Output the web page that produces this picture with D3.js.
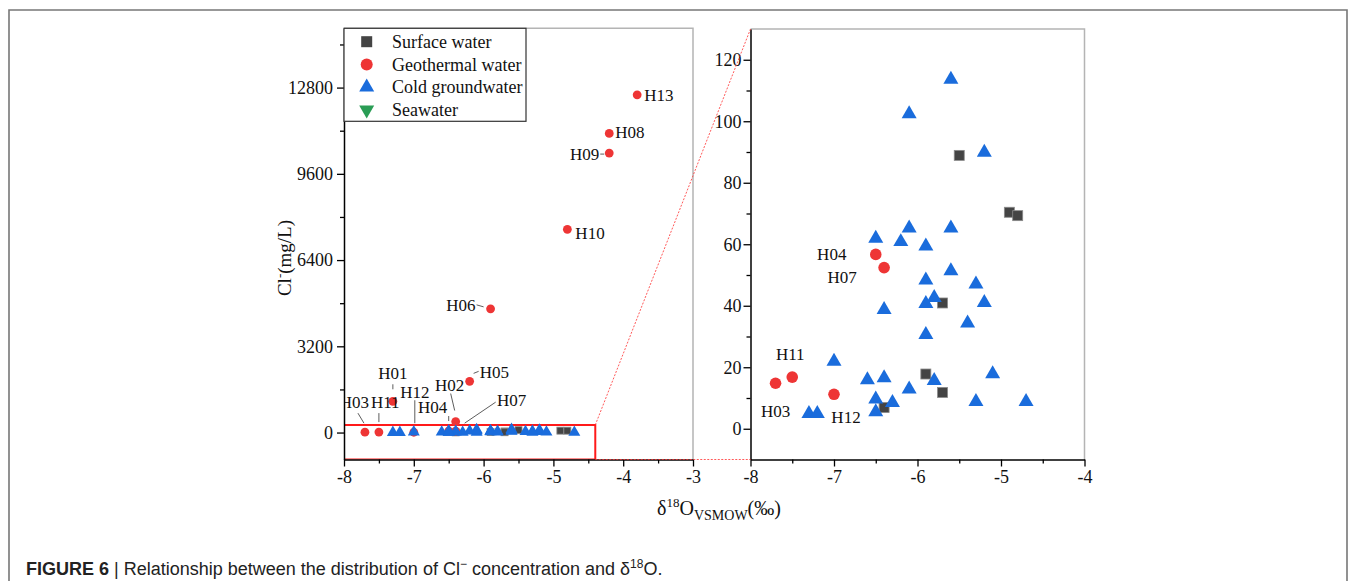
<!DOCTYPE html>
<html>
<head>
<meta charset="utf-8">
<script src="https://cdn.jsdelivr.net/npm/d3@7"></script>
<style>
  body { margin: 0; background: #fff; }
  svg { display: block; font-family: "Liberation Serif", "Times New Roman", serif; }
</style>
</head>
<body>
<svg id="chart" width="1355" height="581"></svg>
<script>
// Data: d18O (permil) and Cl- (mg/L).
var geoNames = ["H01", "H02", "H03", "H04", "H05", "H06", "H07", "H08", "H09", "H10", "H11", "H12", "H13"];
var geoD18O  = [-7.3, -6.4, -7.7, -6.5, -6.2, -5.9, -6.4, -4.2, -4.2, -4.8, -7.5, -7.0, -3.8];
var geoCl    = [1160, 409, 14.8, 56.7, 1900, 4590, 52.4, 11100, 10370, 7540, 16.8, 11.2, 12530];

var surfD18O = [-5.5, -4.9, -4.8, -5.7, -5.9, -5.7, -6.4];
var surfCl   = [88.9, 70.4, 69.3, 40.9, 17.8, 11.8, 6.9];

var coldD18O = [-5.6, -6.1, -5.2, -6.5, -6.1, -6.2, -5.9, -5.6, -5.6, -5.9, -5.3, -5.8, -5.9, -5.2, -6.4,
                -5.4, -5.9, -7.0, -6.6, -6.4, -5.8, -5.1, -6.1, -6.5, -6.3, -6.5, -5.3, -4.7, -7.3, -7.2];
var coldCl   = [113.6, 102.4, 89.9, 61.9, 65.2, 60.8, 59.4, 65.2, 51.3, 48.3, 47.0, 42.6, 40.7, 41.0, 38.7,
                34.3, 30.6, 21.9, 15.9, 16.5, 15.6, 17.8, 12.9, 9.6, 8.5, 5.5, 8.8, 8.8, 4.9, 4.9];

// seawater is only in the legend (off scale)
var seaD18O = [];
var seaCl   = [];

var seriesNames = ["Surface water", "Geothermal water", "Cold groundwater", "Seawater"];

var leftXTicks  = [-8, -7, -6, -5, -4, -3];
var leftYTicks  = [0, 3200, 6400, 9600, 12800];
var rightXTicks = [-8, -7, -6, -5, -4];
var rightYTicks = [0, 20, 40, 60, 80, 100, 120];
var zoomBox = {x: [-8, -4.4], y: [-1000, 280]};

// Layout and style constants.
var my = {
  serif: '"Liberation Serif", "Times New Roman", serif',
  sans: '"Liberation Sans", Arial, sans-serif',
  colors: {surface: "#444444", geo: "#ee3535", cold: "#1a6cdc", sea: "#2a9d55"},
  frame: "#b4b4b4",
  left:  {x0: 344, x1: 693, y0: 459.5, y1: 28.3, xDomain: [-8, -3], yDomain: [-1000, 15000],
          sq: 7, r: 4.4, tri: 12, id: "L"},
  right: {x0: 750.5, x1: 1084.5, y0: 459.5, y1: 29, xDomain: [-8, -4], yDomain: [-10, 130],
          sq: 10, r: 5.8, tri: 15, id: "R"},
  // label offsets from the point: text anchor, dx, dy, optional leader line
  leftLabels: {
    H13: {a: "start", dx: 7, dy: 0},
    H08: {a: "start", dx: 6, dy: -1},
    H09: {a: "end", dx: -10, dy: 1, l: [-9, 1, -5, 1]},
    H10: {a: "start", dx: 8, dy: 4},
    H06: {a: "end", dx: -15, dy: -4, l: [-14, -4, -7, -2]},
    H05: {a: "start", dx: 10, dy: -9.5, l: [4, -8, 9, -10]},
    H01: {a: "middle", dx: 0, dy: -28, l: [0, -17, 0, -12]},
    H02: {a: "middle", dx: -6, dy: -36, l: [-5, -28, -1, -11]},
    H03: {a: "end", dx: 4, dy: -30, l: [-7, -19, -1, -9]},
    H11: {a: "start", dx: -8, dy: -30, l: [0, -19, 0, -10]},
    H12: {a: "middle", dx: 1, dy: -40, l: [1, -32, 1, -9]},
    H04: {a: "middle", dx: -16, dy: -24, l: [0, -15, 0, -10]},
    H07: {a: "middle", dx: 56, dy: -31, l: [40, -29, 9, -8]}
  },
  rightLabels: {
    H04: {a: "middle", dx: -44, dy: 0},
    H07: {a: "middle", dx: -42, dy: 9},
    H11: {a: "middle", dx: -2, dy: -23},
    H03: {a: "middle", dx: 0, dy: 28},
    H12: {a: "middle", dx: 12, dy: 23}
  }
};

var svg = d3.select("#chart");

// figure border (open at the bottom)
svg.append("path")
  .attr("d", "M9,581 V10 H1347 V581")
  .attr("fill", "none").attr("stroke", "#777").attr("stroke-width", 1.6);

function triPath(side) {
  return d3.symbol(d3.symbolTriangle, side * side * Math.sqrt(3) / 4)();
}

function zip(xs, ys, extra) {
  return xs.map(function(v, i) { return {x: v, y: ys[i], name: extra ? extra[i] : null}; });
}

function drawPanel(p) {
  var x = d3.scaleLinear().domain(p.xDomain).range([p.x0, p.x1]);
  var y = d3.scaleLinear().domain(p.yDomain).range([p.y0, p.y1]);
  p.x = x; p.y = y;
  var g = svg.append("g");

  // top/right frame in light grey
  g.append("path")
    .attr("d", "M" + p.x0 + "," + p.y1 + " H" + p.x1 + " V" + p.y0)
    .attr("fill", "none").attr("stroke", my.frame).attr("stroke-width", 1.5);

  svg.append("clipPath").attr("id", "clip" + p.id)
    .append("rect").attr("x", p.x0).attr("y", p.y1)
    .attr("width", p.x1 - p.x0).attr("height", p.y0 - p.y1);

  var plot = g.append("g").attr("clip-path", "url(#clip" + p.id + ")");

  if (p.id === "L") {
    plot.append("rect")
      .attr("x", x(zoomBox.x[0])).attr("y", y(zoomBox.y[1]))
      .attr("width", x(zoomBox.x[1]) - x(zoomBox.x[0]))
      .attr("height", y(zoomBox.y[0]) - y(zoomBox.y[1]))
      .attr("fill", "none").attr("stroke", "#ff1a1a").attr("stroke-width", 2);
  }

  plot.selectAll(".sq").data(zip(surfD18O, surfCl)).enter().append("rect")
    .attr("x", function(d) { return x(d.x) - p.sq / 2; })
    .attr("y", function(d) { return y(d.y) - p.sq / 2; })
    .attr("width", p.sq).attr("height", p.sq)
    .attr("fill", my.colors.surface).attr("stroke", "#8a8a8a").attr("stroke-width", 0.8);

  plot.selectAll(".geo").data(zip(geoD18O, geoCl, geoNames)).enter().append("circle")
    .attr("cx", function(d) { return x(d.x); })
    .attr("cy", function(d) { return y(d.y); })
    .attr("r", p.r).attr("fill", my.colors.geo);

  var tri = triPath(p.tri);
  plot.selectAll(".cold").data(zip(coldD18O, coldCl)).enter().append("path")
    .attr("d", tri)
    .attr("transform", function(d) { return "translate(" + x(d.x) + "," + y(d.y) + ")"; })
    .attr("fill", my.colors.cold);

  plot.selectAll(".sea").data(zip(seaD18O, seaCl)).enter().append("path")
    .attr("d", tri)
    .attr("transform", function(d) { return "translate(" + x(d.x) + "," + y(d.y) + ") rotate(180)"; })
    .attr("fill", my.colors.sea);

  // point labels
  var labels = p.id === "L" ? my.leftLabels : my.rightLabels;
  zip(geoD18O, geoCl, geoNames).forEach(function(d) {
    var lb = labels[d.name];
    if (!lb) return;
    var px = x(d.x), py = y(d.y);
    if (lb.l) {
      plot.append("line")
        .attr("x1", px + lb.l[0]).attr("y1", py + lb.l[1])
        .attr("x2", px + lb.l[2]).attr("y2", py + lb.l[3])
        .attr("stroke", "#333").attr("stroke-width", 0.8);
    }
    plot.append("text")
      .attr("x", px + lb.dx).attr("y", py + lb.dy).attr("dy", "0.35em")
      .attr("text-anchor", lb.a).attr("font-size", 17).attr("fill", "#111")
      .text(d.name);
  });

  // axes
  function styleAxis(a) {
    a.attr("font-family", my.serif).attr("font-size", 18);
    a.selectAll("path").attr("stroke", "#000").attr("stroke-width", 1.5);
    a.selectAll("line").attr("stroke", "#000").attr("stroke-width", 1.3);
    a.selectAll("text").attr("fill", "#111").style("font-family", my.serif);
  }
  var xt = p.id === "L" ? leftXTicks : rightXTicks;
  var yt = p.id === "L" ? leftYTicks : rightYTicks;
  var xMinor = d3.range(p.xDomain[0], p.xDomain[1] + 0.01, 0.5).filter(function(v) { return xt.indexOf(v) < 0; });
  var yStep = (yt[1] - yt[0]) / 2;
  var yMinor = d3.range(yt[0] - yStep * 4, p.yDomain[1], yStep).filter(function(v) {
    return yt.indexOf(v) < 0 && v > p.yDomain[0] && v < p.yDomain[1];
  });

  g.append("g").attr("transform", "translate(0," + p.y0 + ")")
    .call(d3.axisBottom(x).tickValues(xMinor).tickFormat("").tickSize(4).tickSizeOuter(0))
    .call(function(a) { a.select(".domain").remove(); styleAxis(a); });
  g.append("g").attr("transform", "translate(" + p.x0 + ",0)")
    .call(d3.axisLeft(y).tickValues(yMinor).tickFormat("").tickSize(4).tickSizeOuter(0))
    .call(function(a) { a.select(".domain").remove(); styleAxis(a); });
  g.append("g").attr("transform", "translate(0," + p.y0 + ")")
    .call(d3.axisBottom(x).tickValues(xt).tickFormat(function(d) { return String(d); })
      .tickSize(7).tickSizeOuter(0).tickPadding(4))
    .call(styleAxis);
  g.append("g").attr("transform", "translate(" + p.x0 + ",0)")
    .call(d3.axisLeft(y).tickValues(yt).tickFormat(function(d) { return String(d); })
      .tickSize(7).tickSizeOuter(0).tickPadding(p.id === "L" ? 4 : 2))
    .call(styleAxis);
  return p;
}

var L = drawPanel(my.left);
var R = drawPanel(my.right);

// connectors from the zoom box to the right panel
var bx = L.x(zoomBox.x[1]);
[[L.y(zoomBox.y[1]), R.y1], [L.y(zoomBox.y[0]), R.y0]].forEach(function(s) {
  svg.append("line")
    .attr("x1", bx).attr("y1", s[0]).attr("x2", R.x0).attr("y2", s[1])
    .attr("stroke", "#ff3030").attr("stroke-width", 0.8).attr("stroke-dasharray", "2,1.5");
});

// legend
var lg = svg.append("g");
lg.append("rect").attr("x", 344).attr("y", 28.3).attr("width", 182).attr("height", 93)
  .attr("fill", "#fff").attr("stroke", "#333").attr("stroke-width", 1.2);
seriesNames.forEach(function(name, i) {
  var cy = 41.7 + i * 22.7, cx = 366.7;
  if (i === 0) {
    lg.append("rect").attr("x", cx - 5.5).attr("y", cy - 5.5).attr("width", 11).attr("height", 11)
      .attr("fill", my.colors.surface);
  } else if (i === 1) {
    lg.append("circle").attr("cx", cx).attr("cy", cy).attr("r", 6).attr("fill", my.colors.geo);
  } else if (i === 2) {
    lg.append("path").attr("d", triPath(15)).attr("transform", "translate(" + cx + "," + cy + ")")
      .attr("fill", my.colors.cold);
  } else {
    lg.append("path").attr("d", triPath(15)).attr("transform", "translate(" + cx + "," + cy + ") rotate(180)")
      .attr("fill", my.colors.sea);
  }
  lg.append("text").attr("x", 392).attr("y", cy).attr("dy", "0.35em")
    .attr("font-size", 18).attr("fill", "#111").text(name);
});

// axis titles
var yTitle = svg.append("text").attr("transform", "translate(291,258) rotate(-90)")
  .attr("text-anchor", "middle").attr("font-size", 19).attr("fill", "#111");
yTitle.append("tspan").text("Cl");
yTitle.append("tspan").attr("dy", -7).attr("font-size", 13).text("-");
yTitle.append("tspan").attr("dy", 7).text("(mg/L)");

var xTitle = svg.append("text").attr("x", 719).attr("y", 515)
  .attr("text-anchor", "middle").attr("font-size", 20).attr("fill", "#111");
xTitle.append("tspan").text("\u03b4");
xTitle.append("tspan").attr("dy", -8).attr("font-size", 13).text("18");
xTitle.append("tspan").attr("dy", 8).text("O");
xTitle.append("tspan").attr("dy", 5).attr("font-size", 14).text("VSMOW");
xTitle.append("tspan").attr("dy", -5).text("(\u2030)");

// caption
var cap = svg.append("text").attr("x", 26).attr("y", 575)
  .attr("font-family", my.sans).attr("font-size", 18).attr("fill", "#222");
cap.append("tspan").attr("font-weight", "bold").text("FIGURE 6");
cap.append("tspan").text(" | Relationship between the distribution of Cl");
cap.append("tspan").attr("dy", -7).attr("font-size", 12).text("\u2212");
cap.append("tspan").attr("dy", 7).text(" concentration and \u03b4");
cap.append("tspan").attr("dy", -7).attr("font-size", 12).text("18");
cap.append("tspan").attr("dy", 7).text("O.");
</script>
</body>
</html>
